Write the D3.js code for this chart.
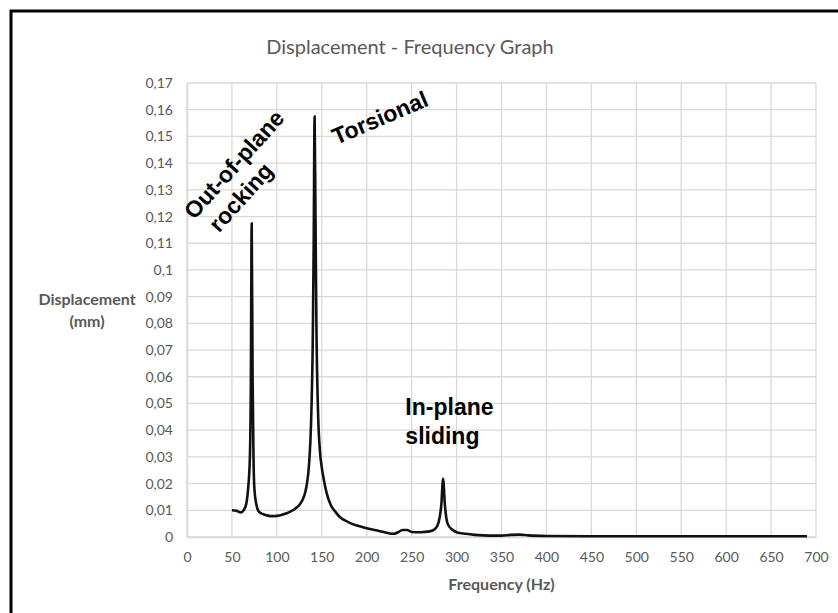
<!DOCTYPE html>
<html>
<head>
<meta charset="utf-8">
<script src="https://cdn.jsdelivr.net/npm/d3@7"></script>
<style>
  html, body { margin: 0; padding: 0; background: #fff; }
  svg { display: block; }
</style>
</head>
<body>
<svg id="chart" width="838" height="613"></svg>
<script>
// Frequency response: frequency (Hz) and displacement (mm)
const frequency = [
  50, 55, 60, 63, 66, 68, 70, 71, 72, 73, 74, 75, 77, 80, 85, 90, 95, 100,
  105, 110, 115, 120, 125, 130, 133, 136, 138, 140, 141, 142, 143, 144, 146,
  148, 150, 152, 155, 160, 165, 170, 180, 190, 200, 210, 220, 226, 230, 235,
  240, 245, 250, 260, 270, 276, 280, 283, 285, 287, 290, 295, 300, 310, 320,
  330, 340, 350, 360, 370, 380, 400, 450, 500, 600, 690
];
const displacement = [
  0.0100, 0.0098, 0.0092, 0.0100, 0.0125, 0.0180, 0.0300, 0.0550, 0.1175,
  0.0600, 0.0300, 0.0180, 0.0125, 0.0095, 0.0085, 0.0080, 0.0078, 0.0079,
  0.0082, 0.0088, 0.0095, 0.0105, 0.0120, 0.0150, 0.0190, 0.0280, 0.0420,
  0.0750, 0.1100, 0.1575, 0.1200, 0.0800, 0.0450, 0.0320, 0.0260, 0.0220,
  0.0170, 0.0120, 0.0095, 0.0075, 0.0055, 0.0042, 0.0033, 0.0025, 0.0018,
  0.0013, 0.0012, 0.0018, 0.0026, 0.0026, 0.0019, 0.0018, 0.0021, 0.0030,
  0.0055, 0.0120, 0.0218, 0.0120, 0.0050, 0.0028, 0.0018, 0.0012, 0.0008,
  0.0006, 0.0005, 0.0005, 0.0008, 0.0009, 0.0006, 0.0004, 0.0003, 0.0003,
  0.0003, 0.0003
];
const xTicks = d3.range(0, 701, 50);
const yTicks = d3.range(0, 18).map(i => i / 100);
const yTickLabels = yTicks.map(v => v === 0 ? "0" : String(+v.toFixed(2)).replace(".", ","));

const titleText = "Displacement - Frequency Graph";
const xTitle = "Frequency (Hz)";
const yTitle = ["Displacement", "(mm)"];

// Mode annotations (anchored in data units, rotated in degrees)
const modes = [
  { lines: ["Out-of-plane", "rocking"], f: 8, d: 0.1185, angle: -48, lead: 27, indent: 7 },
  { lines: ["Torsional"], f: 166, d: 0.1468, angle: -23, lead: 0, indent: 0 },
  { lines: ["In-plane", "sliding"], f: 243, d: 0.0455, angle: 0, lead: 29, indent: 0 }
];

const svg = d3.select("#chart");
const margin = { left: 187, right: 816, top: 83, bottom: 537 };

const x = d3.scaleLinear().domain([0, 700]).range([margin.left, margin.right]);
const y = d3.scaleLinear().domain([0, 0.17]).range([margin.bottom, margin.top]);

const labelFont = "Lato, 'Open Sans', sans-serif";
const gray = "#595959";

// Outer frame
svg.append("rect")
  .attr("x", 11).attr("y", 11)
  .attr("width", 900).attr("height", 700)
  .attr("fill", "none").attr("stroke", "#000").attr("stroke-width", 3);

// Gridlines
svg.append("g").selectAll("line").data(xTicks).join("line")
  .attr("x1", d => x(d)).attr("x2", d => x(d))
  .attr("y1", y(0)).attr("y2", y(0.17))
  .attr("stroke", "#d9d9d9").attr("stroke-width", 1.3);
svg.append("g").selectAll("line").data(yTicks).join("line")
  .attr("x1", x(0)).attr("x2", x(700))
  .attr("y1", d => y(d)).attr("y2", d => y(d))
  .attr("stroke", "#d9d9d9").attr("stroke-width", 1.3);

// Axes (labels only; the grid carries the lines)
const xAxis = svg.append("g")
  .attr("transform", `translate(0,${y(0)})`)
  .call(d3.axisBottom(x).tickValues(xTicks).tickSize(0).tickPadding(15).tickFormat(d3.format("d")));
xAxis.select(".domain").attr("stroke", "#d9d9d9").attr("stroke-width", 1.5);
xAxis.selectAll("text").attr("fill", gray).attr("font-size", 14).attr("font-family", labelFont);

const yAxis = svg.append("g")
  .attr("transform", `translate(${x(0)},0)`)
  .call(d3.axisLeft(y).tickValues(yTicks).tickSize(0).tickPadding(14)
    .tickFormat((d, i) => yTickLabels[i]));
yAxis.select(".domain").attr("stroke", "#d9d9d9").attr("stroke-width", 1.5);
yAxis.selectAll("text").attr("fill", gray).attr("font-size", 14).attr("font-family", labelFont);

// Response curve
const points = frequency.map((f, i) => [f, displacement[i]]);
svg.append("path")
  .datum(points)
  .attr("fill", "none")
  .attr("stroke", "#111")
  .attr("stroke-width", 2.6)
  .attr("stroke-linejoin", "round")
  .attr("d", d3.line().x(d => x(d[0])).y(d => y(d[1])).curve(d3.curveMonotoneX));

// Titles
svg.append("text")
  .attr("x", 410).attr("y", 54)
  .attr("text-anchor", "middle")
  .attr("fill", gray).attr("font-size", 20).attr("font-family", labelFont)
  .text(titleText);

svg.append("text")
  .attr("x", x(350)).attr("y", 590)
  .attr("text-anchor", "middle")
  .attr("fill", gray).attr("font-size", 16).attr("font-weight", "bold").attr("font-family", labelFont)
  .text(xTitle);

svg.append("g").selectAll("text").data(yTitle).join("text")
  .attr("x", 87).attr("y", (d, i) => 305 + i * 22)
  .attr("text-anchor", "middle")
  .attr("fill", gray).attr("font-size", 16).attr("font-weight", "bold").attr("font-family", labelFont)
  .text(d => d);

// Mode labels
modes.forEach(m => {
  const g = svg.append("g")
    .attr("transform", `translate(${x(m.f)},${y(m.d)}) rotate(${m.angle})`);
  g.selectAll("text").data(m.lines).join("text")
    .attr("x", (d, i) => i * m.indent)
    .attr("y", (d, i) => i * m.lead)
    .attr("fill", "#000")
    .attr("font-size", 23)
    .attr("font-weight", "bold")
    .attr("font-family", "'Liberation Sans', Arial, sans-serif")
    .text(d => d);
});
</script>
</body>
</html>
